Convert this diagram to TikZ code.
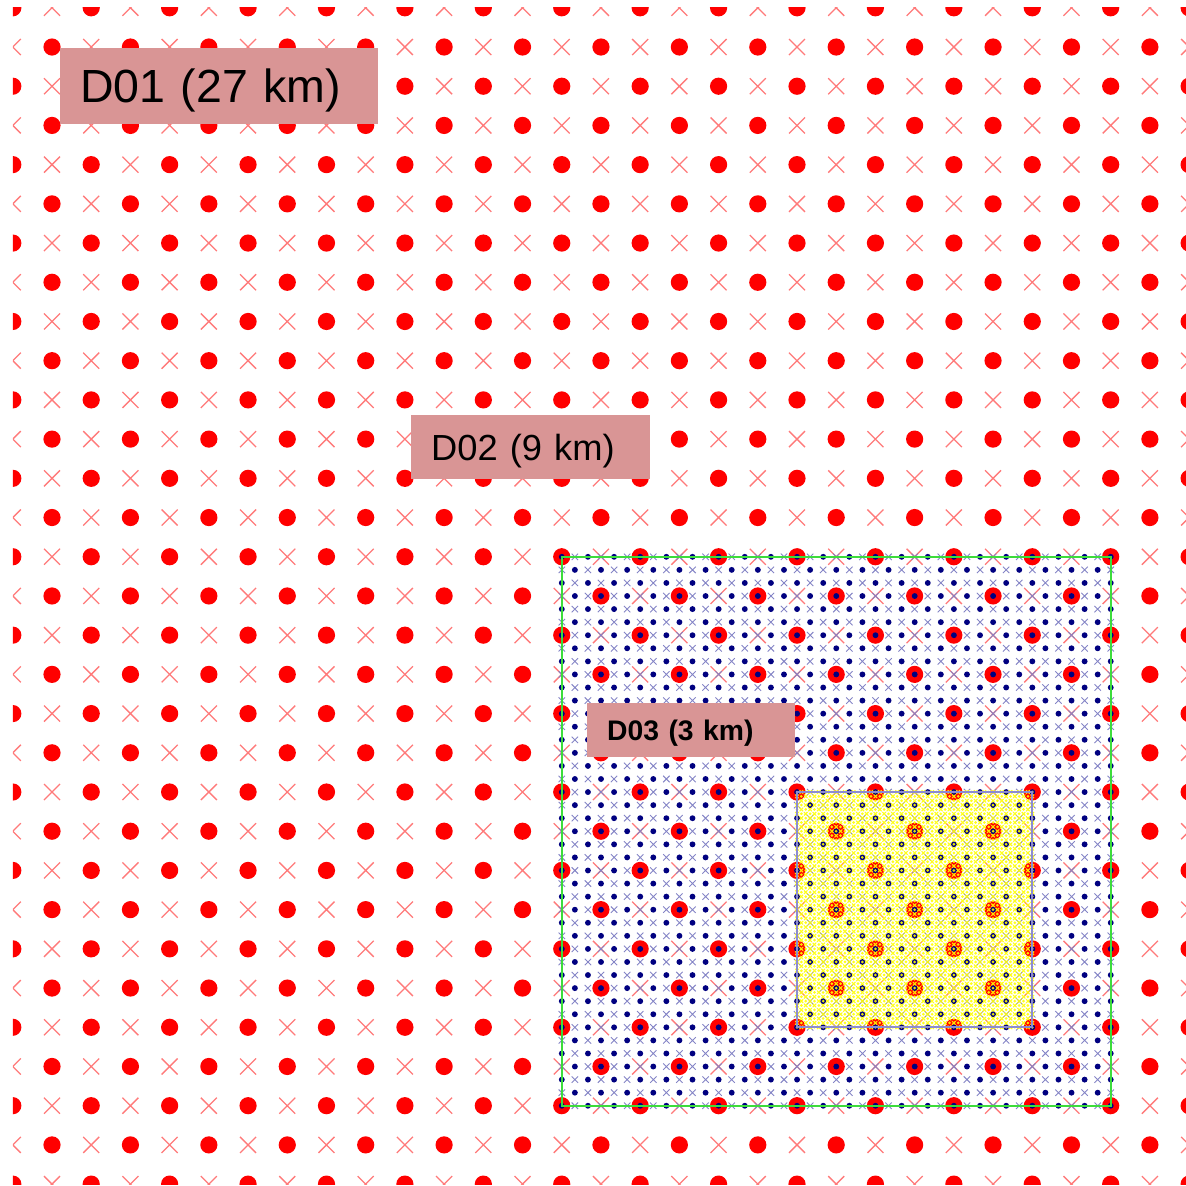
\documentclass[tikz,border=0pt]{standalone}
\usepackage{fontspec}
\setmainfont{Liberation Sans}
\definecolor{dotred}{HTML}{FF0000}
\definecolor{xred}{HTML}{FF7A7A}
\definecolor{bnavy}{HTML}{000080}
\definecolor{xblue}{HTML}{8484C6}
\definecolor{gline}{HTML}{3CDC3C}
\definecolor{ymesh}{HTML}{FFFF00}
\definecolor{yborder}{HTML}{8C8CD2}
\definecolor{lbl}{HTML}{D99595}
\tikzset{
  reddot/.style={fill=dotred},
  redx/.style={draw=xred, line width=1.3pt},
  bluedot/.style={fill=bnavy},
  bluex/.style={draw=xblue, line width=0.9pt},
  ydot/.style={fill=ymesh, fill opacity=0.9},
  yx/.style={draw=ymesh, line width=1.1pt, draw opacity=0.9},
  lblbox/.style={fill=lbl, anchor=north west, inner ysep=0pt, inner xsep=20pt, align=left, text=black}
}
\begin{document}
\begin{tikzpicture}[x=1pt,y=-1pt]
\useasboundingbox (0,0) rectangle (1186,1186);
\begin{scope}
\clip (12.8,7.8) rectangle (1189.1,1184.1);
% ---- D01 coarse grid (red)
\path[reddot] \foreach \i in {0,2,...,30}{\foreach \j in {0,2,...,30}{ ({12.8+\i*39.21},{7.8+\j*39.21}) circle[radius=8.6] }};
\path[reddot] \foreach \i in {1,3,...,29}{\foreach \j in {1,3,...,29}{ ({12.8+\i*39.21},{7.8+\j*39.21}) circle[radius=8.6] }};
\path[redx] \foreach \i in {0,2,...,30}{\foreach \j in {1,3,...,29}{ ({12.8+\i*39.21},{7.8+\j*39.21}) +(-8,-8) -- +(8,8) +(-8,8) -- +(8,-8) }};
\path[redx] \foreach \i in {1,3,...,29}{\foreach \j in {0,2,...,30}{ ({12.8+\i*39.21},{7.8+\j*39.21}) +(-8,-8) -- +(8,8) +(-8,8) -- +(8,-8) }};
% ---- middle grid (blue)
\path[bluex] \foreach \i in {0,2,...,42}{\foreach \j in {1,3,...,41}{ ({561.8+\i*13.07},{556.8+\j*13.07}) +(-3.2,-3.2) -- +(3.2,3.2) +(-3.2,3.2) -- +(3.2,-3.2) }};
\path[bluex] \foreach \i in {1,3,...,41}{\foreach \j in {0,2,...,42}{ ({561.8+\i*13.07},{556.8+\j*13.07}) +(-3.2,-3.2) -- +(3.2,3.2) +(-3.2,3.2) -- +(3.2,-3.2) }};
\path[bluedot] \foreach \i in {0,2,...,42}{\foreach \j in {0,2,...,42}{ ({561.8+\i*13.07},{556.8+\j*13.07}) circle[radius=2.95] }};
\path[bluedot] \foreach \i in {1,3,...,41}{\foreach \j in {1,3,...,41}{ ({561.8+\i*13.07},{556.8+\j*13.07}) circle[radius=2.95] }};
\draw[gline, line width=2.2pt] (561.8,556.8) rectangle (1110.7,1105.7);
% ---- fine grid (yellow)
\path[yx] \foreach \i in {0,2,...,54}{\foreach \j in {1,3,...,53}{ ({797.0+\i*4.3567},{792.0+\j*4.3567}) +(-1.8,-1.8) -- +(1.8,1.8) +(-1.8,1.8) -- +(1.8,-1.8) }};
\path[yx] \foreach \i in {1,3,...,53}{\foreach \j in {0,2,...,54}{ ({797.0+\i*4.3567},{792.0+\j*4.3567}) +(-1.8,-1.8) -- +(1.8,1.8) +(-1.8,1.8) -- +(1.8,-1.8) }};
\path[ydot] \foreach \i in {0,2,...,54}{\foreach \j in {0,2,...,54}{ ({797.0+\i*4.3567},{792.0+\j*4.3567}) circle[radius=1.5] }};
\path[ydot] \foreach \i in {1,3,...,53}{\foreach \j in {1,3,...,53}{ ({797.0+\i*4.3567},{792.0+\j*4.3567}) circle[radius=1.5] }};
\draw[yborder, line width=1.8pt] (797.0,792.0) rectangle (1032.3,1027.3);
\end{scope}
% ---- labels
\node[lblbox, text width=278pt, minimum height=76pt, text height=41.85pt, text depth=8.56pt, font=\fontsize{46.5}{50}\selectfont] (d01) at (60,48) {D01 (27 km)};
\node[lblbox, text width=199pt, minimum height=64pt, text height=32.67pt, text depth=6.68pt, font=\fontsize{36.3}{40}\selectfont] (d02) at (411,415) {D02 (9 km)};
\node[lblbox, text width=168pt, minimum height=54pt, text height=25.47pt, text depth=5.21pt, font=\fontsize{28.3}{32}\selectfont\bfseries] (d03) at (587,703) {D03 (3 km)};
\end{tikzpicture}
\end{document}
